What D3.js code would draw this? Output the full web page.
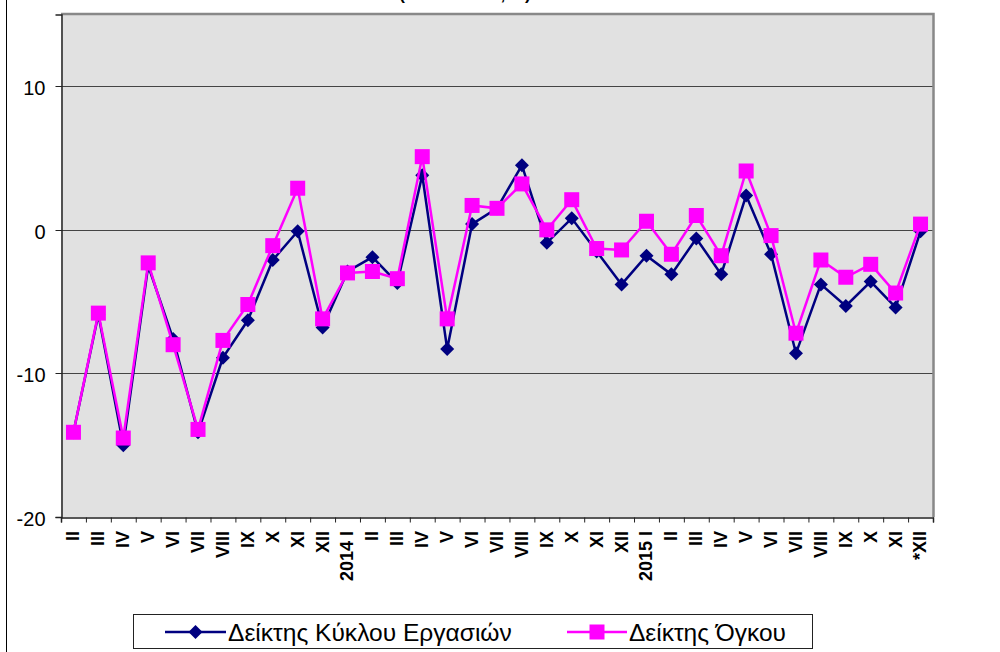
<!DOCTYPE html>
<html>
<head>
<meta charset="utf-8">
<script src="https://cdn.jsdelivr.net/npm/d3@7"></script>
<style>
  html, body { margin: 0; padding: 0; background: #fff; }
  svg { display: block; font-family: Arial, "Liberation Sans", sans-serif; }
</style>
</head>
<body>
<svg id="chart" width="1000" height="652"></svg>
<script>
// ---- data ----
const categories = ["II","III","IV","V","VI","VII","VIII","IX","X","XI","XII",
  "2014 I","II","III","IV","V","VI","VII","VIII","IX","X","XI","XII",
  "2015 I","II","III","IV","V","VI","VII","VIII","IX","X","XI","*XII"];
const turnoverIndex = [-14.1,-5.9,-15.0,-2.5,-7.6,-14.1,-8.9,-6.3,-2.1,-0.1,-6.8,
  -2.9,-1.9,-3.7,3.8,-8.3,0.4,1.5,4.5,-0.9,0.8,-1.5,-3.8,
  -1.8,-3.1,-0.6,-3.1,2.4,-1.7,-8.6,-3.8,-5.3,-3.6,-5.4,-0.1];
const volumeIndex = [-14.1,-5.8,-14.5,-2.3,-8.0,-13.9,-7.7,-5.2,-1.1,2.9,-6.2,
  -3.0,-2.9,-3.4,5.1,-6.2,1.7,1.5,3.2,0.0,2.1,-1.3,-1.4,
  0.6,-1.7,1.0,-1.8,4.1,-0.4,-7.2,-2.1,-3.3,-2.4,-4.4,0.4];
const seriesNames = ["Δείκτης Κύκλου Εργασιών", "Δείκτης Όγκου"];
const yTicks = [-20, -10, 0, 10];
const yDomain = [-20, 15];
const titleText = "(ΜΕΤΑΒΟΛΗ, %)";

// ---- layout ----
const svg = d3.select("#chart");
const L = 61, R = 933, T = 14.5, B = 517;
const navy = "#000080", magenta = "#ff00ff";

const x = d3.scaleBand().domain(d3.range(categories.length)).range([L, R]).paddingInner(0).paddingOuter(0);
const xi = d3.scaleLinear().domain([0, categories.length]).range([L, R]);
const y = d3.scaleLinear().domain(yDomain).range([B, T]);
const cx = i => x(i) + x.bandwidth() / 2;

// outer left border
svg.append("line").attr("x1", 6.5).attr("x2", 6.5).attr("y1", 0).attr("y2", 652)
  .attr("stroke", "#000").attr("stroke-width", 1);

// title (cropped at top, as in the reference)
svg.append("text").attr("x", 465).attr("y", 0).attr("text-anchor", "middle")
  .attr("font-size", 17).attr("font-weight", "bold").text(titleText);

// plot background
svg.append("rect").attr("x", L).attr("y", T).attr("width", R - L).attr("height", B - T)
  .attr("fill", "#e1e1e1");

// gridlines
svg.append("g").selectAll("line").data(yTicks.filter(t => t > yDomain[0]))
  .join("line")
  .attr("x1", L).attr("x2", R)
  .attr("y1", d => Math.round(y(d)) + 0.5).attr("y2", d => Math.round(y(d)) + 0.5)
  .attr("stroke", "#444").attr("stroke-width", 1);

// frame top & right (gray)
svg.append("path")
  .attr("d", `M${L},${T - 0.5}H${R + 0.5}V${B}`)
  .attr("fill", "none").attr("stroke", "#888").attr("stroke-width", 2.5);

// y axis
const yAxis = d3.axisLeft(y).tickValues(yTicks).tickSize(6).tickPadding(10).tickFormat(d => String(d));
const gy = svg.append("g").attr("transform", `translate(${L + 0.5},0)`).call(yAxis);
gy.select(".domain").attr("stroke", "#222").attr("stroke-width", 1.5);
gy.selectAll(".tick line").attr("stroke", "#222");
gy.selectAll(".tick text").attr("font-size", 20).attr("fill", "#000")
  .attr("font-family", "Arial, 'Liberation Sans', sans-serif").attr("dy", "0.4em");
gy.selectAll(".tick").attr("transform", d => `translate(0,${Math.round(y(d)) + 0.5})`);

// x axis line + boundary ticks
const xAxisTicks = d3.axisBottom(xi).tickValues(d3.range(categories.length + 1)).tickSize(5).tickFormat("");
const gx = svg.append("g").attr("transform", `translate(0,${B + 0.5})`).call(xAxisTicks);
gx.select(".domain").attr("stroke", "#222").attr("stroke-width", 1.5);
gx.selectAll(".tick line").attr("stroke", "#222");

// x labels (rotated)
svg.append("g").selectAll("text").data(categories).join("text")
  .attr("transform", (d, i) => `translate(${cx(i)},${B + 14}) rotate(-90)`)
  .attr("text-anchor", "end").attr("dy", "0.33em")
  .attr("font-size", 18).attr("font-weight", "bold").attr("fill", "#000")
  .text(d => d);

// series
const line = d3.line().x((d, i) => cx(i)).y(d => y(d));

svg.append("path").datum(turnoverIndex).attr("d", line)
  .attr("fill", "none").attr("stroke", navy).attr("stroke-width", 2.5);
svg.append("g").selectAll("path").data(turnoverIndex).join("path")
  .attr("transform", (d, i) => `translate(${cx(i)},${y(d)}) rotate(45)`)
  .attr("d", d3.symbol().type(d3.symbolSquare).size(98)())
  .attr("fill", navy);

svg.append("path").datum(volumeIndex).attr("d", line)
  .attr("fill", "none").attr("stroke", magenta).attr("stroke-width", 2.5);
svg.append("g").selectAll("rect").data(volumeIndex).join("rect")
  .attr("x", (d, i) => cx(i) - 7.5).attr("y", d => y(d) - 7.5)
  .attr("width", 15).attr("height", 15).attr("fill", magenta);

// legend
const lg = svg.append("g");
lg.append("rect").attr("x", 133.5).attr("y", 614.5).attr("width", 679).attr("height", 34)
  .attr("fill", "#fff").attr("stroke", "#222").attr("stroke-width", 1);
const legendItems = [
  {name: seriesNames[0], color: navy, x0: 165, x1: 226, tx: 228, w: 284, marker: "diamond"},
  {name: seriesNames[1], color: magenta, x0: 567, x1: 627, tx: 629, w: 157, marker: "square"}
];
const ly = 632;
legendItems.forEach(it => {
  lg.append("line").attr("x1", it.x0).attr("x2", it.x1).attr("y1", ly).attr("y2", ly)
    .attr("stroke", it.color).attr("stroke-width", 2.5);
  const mx = (it.x0 + it.x1) / 2;
  if (it.marker === "diamond") {
    lg.append("path").attr("transform", `translate(${mx},${ly}) rotate(45)`)
      .attr("d", d3.symbol().type(d3.symbolSquare).size(98)()).attr("fill", it.color);
  } else {
    lg.append("rect").attr("x", mx - 7.5).attr("y", ly - 7.5).attr("width", 15).attr("height", 15)
      .attr("fill", it.color);
  }
  const t = lg.append("text").attr("x", it.tx).attr("y", ly).attr("dy", "0.36em")
    .attr("font-size", 22).attr("fill", "#000").text(it.name);
  const w = t.node().getComputedTextLength();
  t.attr("font-size", 22 * it.w / w);
});
</script>
</body>
</html>
